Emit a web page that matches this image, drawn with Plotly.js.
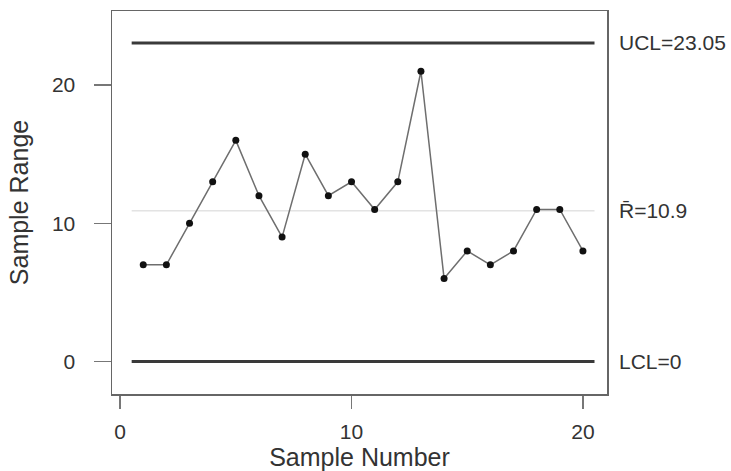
<!DOCTYPE html>
<html>
<head>
<meta charset="utf-8">
<script src="https://cdn.plot.ly/plotly-3.0.1.min.js"></script>
<style>html,body{margin:0;padding:0;background:#fff}#chart{width:731px;height:471px}</style>
</head>
<body>
<div id="chart"></div>
<script>
var sampleNumbers = [1,2,3,4,5,6,7,8,9,10,11,12,13,14,15,16,17,18,19,20];
var sampleRanges = [7,7,10,13,16,12,9,15,12,13,11,13,21,6,8,7,8,11,11,8];
var UCL = 23.05;
var RBAR = 10.9;
var LCL = 0;
var limitSpan = [0.5, 20.5];
var xTicks = [0, 10, 20];
var yTicks = [0, 10, 20];
var limitLabels = ['UCL=23.05', 'R\u0304=10.9', 'LCL=0'];
var limitValues = [UCL, RBAR, LCL];

var font = 'Liberation Sans, Arial, Helvetica, sans-serif';
var txt = '#333';

var traces = [
  {x: limitSpan, y: [UCL, UCL], mode: 'lines', line: {color: '#3a3a3a', width: 3}, hoverinfo: 'skip'},
  {x: limitSpan, y: [RBAR, RBAR], mode: 'lines', line: {color: '#d4d4d4', width: 1}, hoverinfo: 'skip'},
  {x: limitSpan, y: [LCL, LCL], mode: 'lines', line: {color: '#3a3a3a', width: 3}, hoverinfo: 'skip'},
  {x: sampleNumbers, y: sampleRanges, mode: 'lines+markers',
   line: {color: '#6e6e6e', width: 1.5},
   marker: {color: '#111', size: 7}}
];

var annotations = limitLabels.map(function(t, i){
  return {xref: 'paper', yref: 'y', x: 1, y: limitValues[i], text: t, showarrow: false,
    xanchor: 'left', yanchor: 'middle', xshift: 10,
    font: {family: font, size: 21, color: txt}};
});

var layout = {
  width: 731, height: 471,
  margin: {l: 112, r: 124, t: 11, b: 77},
  paper_bgcolor: '#fff', plot_bgcolor: '#fff',
  showlegend: false,
  font: {family: font, color: txt},
  xaxis: {
    range: [-0.35, 21.04], tickvals: xTicks, ticktext: xTicks.map(String),
    showgrid: false, zeroline: false,
    showline: true, mirror: true, linecolor: '#666', linewidth: 1.5,
    ticks: 'outside', ticklen: 13, tickwidth: 1.5, tickcolor: '#777',
    ticklabelstandoff: 5,
    tickfont: {size: 21, color: txt},
    title: {text: 'Sample Number', font: {size: 25, color: txt}, standoff: 4}
  },
  yaxis: {
    range: [-2.35, 25.36], tickvals: yTicks, ticktext: yTicks.map(String),
    showgrid: false, zeroline: false,
    showline: true, mirror: true, linecolor: '#666', linewidth: 1.5,
    ticks: 'outside', ticklen: 17, tickwidth: 1.5, tickcolor: '#777',
    ticklabelstandoff: 14,
    tickfont: {size: 21, color: txt},
    title: {text: 'Sample Range', font: {size: 25, color: txt}, standoff: 16}
  },
  annotations: annotations
};

Plotly.newPlot('chart', traces, layout, {displayModeBar: false, staticPlot: true});
</script>
</body>
</html>
